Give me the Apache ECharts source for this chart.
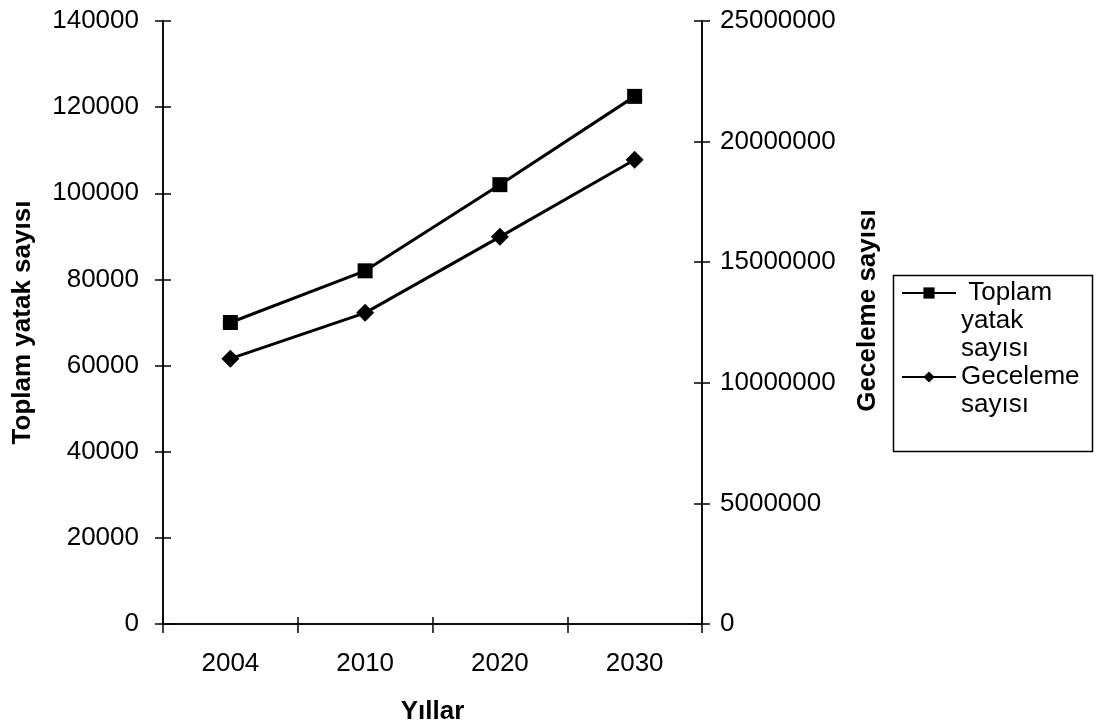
<!DOCTYPE html>
<html>
<head>
<meta charset="utf-8">
<script src="https://cdn.jsdelivr.net/npm/echarts@6/dist/echarts.min.js"></script>
<style>
html,body{margin:0;padding:0;background:#fff;}
#chart{width:1097px;height:727px;}
</style>
</head>
<body>
<div id="chart"></div>
<script>
var years = ['2004', '2010', '2020', '2030'];
var yatakValues = [70000, 82000, 102000, 122500];
var gecelemeValues = [11000000, 12900000, 16050000, 19250000];
var leftTicks = {min: 0, max: 140000, interval: 20000};
var rightTicks = {min: 0, max: 25000000, interval: 5000000};
var seriesNames = ['Toplam yatak sayısı', 'Geceleme sayısı'];
var legendLabels = ['\n\n Toplam\nyatak\nsayısı', '\nGeceleme\nsayısı'];
var axisTitles = {x: 'Yıllar', left: 'Toplam yatak sayısı', right: 'Geceleme sayısı'};

var FONT = '"Liberation Sans", Arial, sans-serif';
var chart = echarts.init(document.getElementById('chart'), null, {renderer: 'canvas'});
var plain = function (v) { return String(v); };
var tickStyle = {color: '#000', width: 1.5};

function legendFor(i, top) {
  return {
    data: [{name: seriesNames[i]}],
    left: 901, top: top, padding: 0,
    orient: 'vertical',
    itemWidth: 54, itemHeight: 14,
    formatter: function () { return legendLabels[i]; },
    textStyle: {fontFamily: FONT, fontSize: 26, color: '#000', lineHeight: 28},
    selectedMode: false
  };
}

var option = {
  backgroundColor: '#ffffff',
  animation: false,
  grid: {left: 163, top: 21, width: 539, height: 603, outerBoundsMode: 'none', containLabel: false},
  legend: [legendFor(0, 223), legendFor(1, 335)],
  graphic: [{
    type: 'rect', left: 891, top: 273,
    shape: {width: 199, height: 176},
    style: {fill: 'none', stroke: '#000', lineWidth: 1.5}
  }],
  xAxis: [{
    type: 'category', data: years, boundaryGap: true, position: 'bottom',
    name: axisTitles.x, nameLocation: 'middle', nameGap: 75,
    nameTextStyle: {fontFamily: FONT, fontSize: 26, fontWeight: 'bold', color: '#000'},
    axisLine: {lineStyle: {color: '#000', width: 1.5}},
    axisTick: {show: true, inside: false, length: 9, lineStyle: tickStyle},
    axisLabel: {fontFamily: FONT, fontSize: 26, color: '#000', margin: 27},
    splitLine: {show: false}
  }, {
    type: 'category', data: years, boundaryGap: true, position: 'bottom',
    axisLine: {show: true, lineStyle: {color: '#000', width: 1.5}},
    axisTick: {show: true, inside: true, length: 7, lineStyle: tickStyle},
    axisLabel: {show: false},
    splitLine: {show: false}
  }],
  yAxis: [{
    type: 'value', position: 'left',
    min: leftTicks.min, max: leftTicks.max, interval: leftTicks.interval,
    name: axisTitles.left, nameLocation: 'middle', nameGap: 127, nameRotate: 90,
    nameTextStyle: {fontFamily: FONT, fontSize: 26, fontWeight: 'bold', color: '#000'},
    axisLine: {show: true, lineStyle: {color: '#000', width: 1.5}},
    axisTick: {show: true, inside: false, length: 8, lineStyle: tickStyle},
    axisLabel: {fontFamily: FONT, fontSize: 26, color: '#000', margin: 24, formatter: plain},
    splitLine: {show: false}
  }, {
    type: 'value', position: 'right',
    min: rightTicks.min, max: rightTicks.max, interval: rightTicks.interval,
    name: axisTitles.right, nameLocation: 'middle', nameGap: 153, nameRotate: 90,
    nameTextStyle: {fontFamily: FONT, fontSize: 26, fontWeight: 'bold', color: '#000', padding: [0, 0, 0, 24]},
    axisLine: {show: true, lineStyle: {color: '#000', width: 1.5}},
    axisTick: {show: true, inside: false, length: 8, lineStyle: tickStyle},
    axisLabel: {fontFamily: FONT, fontSize: 26, color: '#000', margin: 18, formatter: plain},
    splitLine: {show: false}
  }, {
    type: 'value', position: 'left',
    min: leftTicks.min, max: leftTicks.max, interval: leftTicks.interval,
    axisLine: {show: true, lineStyle: {color: '#000', width: 1.5}},
    axisTick: {show: true, inside: true, length: 8, lineStyle: tickStyle},
    axisLabel: {show: false},
    splitLine: {show: false}
  }, {
    type: 'value', position: 'right',
    min: rightTicks.min, max: rightTicks.max, interval: rightTicks.interval,
    axisLine: {show: true, lineStyle: {color: '#000', width: 1.5}},
    axisTick: {show: true, inside: true, length: 8, lineStyle: tickStyle},
    axisLabel: {show: false},
    splitLine: {show: false}
  }],
  series: [{
    name: seriesNames[0], type: 'line', xAxisIndex: 0, yAxisIndex: 0,
    data: yatakValues,
    symbol: 'rect', symbolSize: 15,
    lineStyle: {color: '#000', width: 3},
    itemStyle: {color: '#000'}
  }, {
    name: seriesNames[1], type: 'line', xAxisIndex: 0, yAxisIndex: 1,
    data: gecelemeValues,
    symbol: 'diamond', symbolSize: 18,
    lineStyle: {color: '#000', width: 3},
    itemStyle: {color: '#000'}
  }]
};
chart.setOption(option);
</script>
</body>
</html>
